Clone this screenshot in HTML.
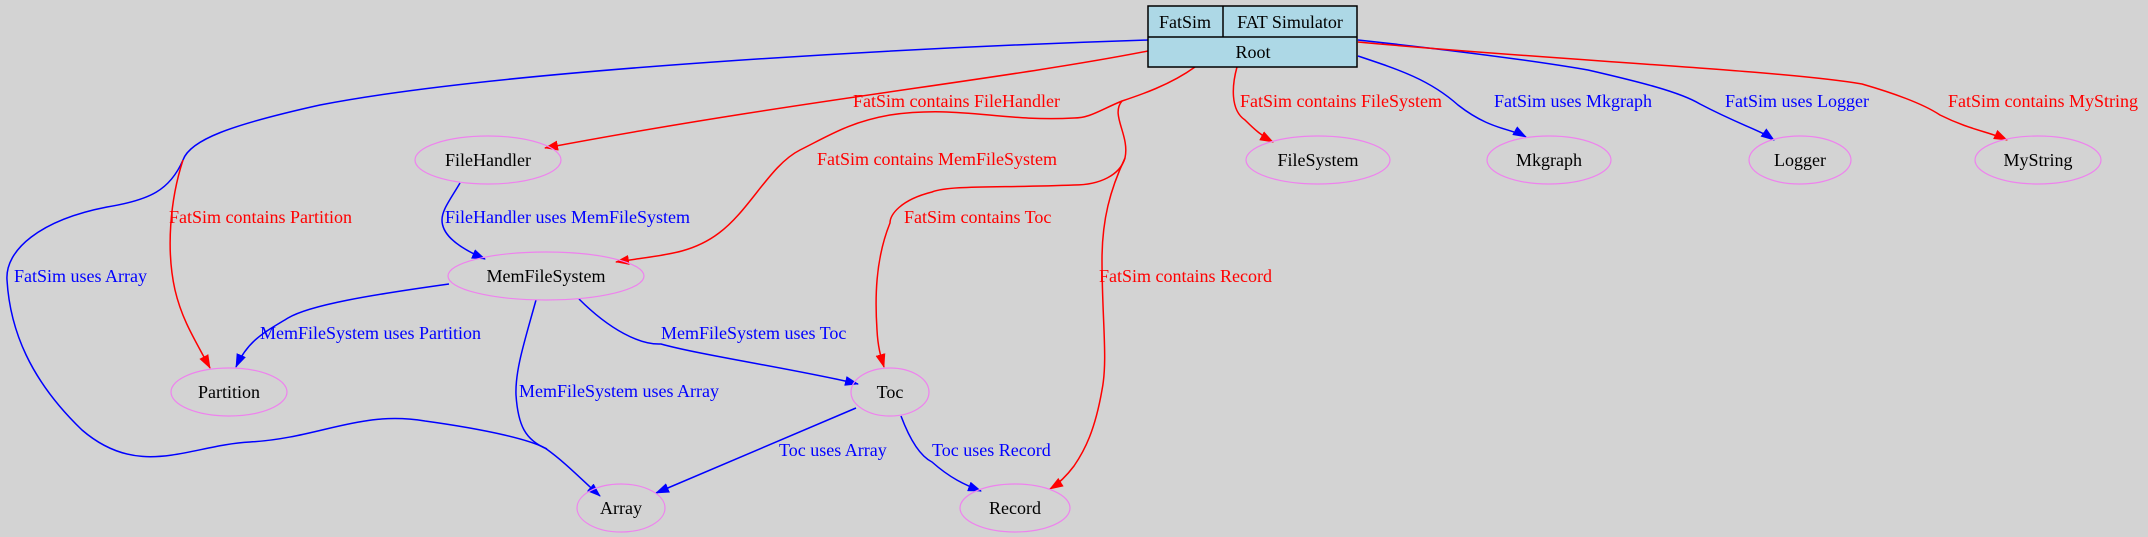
<!DOCTYPE html>
<html><head><meta charset="utf-8"><style>
html,body{margin:0;padding:0;background:#d3d3d3;}
svg{display:block;}
text{font-family:"Liberation Serif",serif;font-size:18px;}
</style></head><body>
<svg width="2148" height="537" viewBox="0 0 2148 537" xmlns="http://www.w3.org/2000/svg">
<defs>
<marker id="ab" markerWidth="14" markerHeight="10" refX="13" refY="5" orient="auto" markerUnits="userSpaceOnUse"><path d="M0,0 L14,5 L0,10 z" fill="#0000ff"/></marker>
<marker id="ar" markerWidth="14" markerHeight="10" refX="13" refY="5" orient="auto" markerUnits="userSpaceOnUse"><path d="M0,0 L14,5 L0,10 z" fill="#ff0000"/></marker>
</defs>
<rect width="2148" height="537" fill="#d3d3d3"/>
<g fill="none" stroke-width="1.5">
<path d="M1148,40 C900,48 500,70 320,105 C230,125 190,140 183,160 C170,190 150,200 107,207 C40,220 5,250 7,280 C10,330 30,380 82,430 C140,480 190,445 250,442 C320,438 360,410 425,421 C490,430 530,440 545,448 C565,462 582,480 600,496" stroke="#0000ff" marker-end="url(#ab)"/>
<path d="M1148,51 C1000,80 800,100 545,148" stroke="#ff0000" marker-end="url(#ar)"/>
<path d="M183,160 C170,200 166,250 175,290 C182,320 195,340 210,368" stroke="#ff0000" marker-end="url(#ar)"/>
<path d="M1195,67 C1170,85 1140,95 1122,101 C1100,110 1090,118 1074,118 C1000,122 960,105 890,115 C850,122 830,135 800,150 C770,165 750,210 719,233 C690,255 660,255 616,262" stroke="#ff0000" marker-end="url(#ar)"/>
<path d="M1122,101 C1110,115 1130,135 1125,158 C1120,175 1100,185 1074,185 C1000,188 950,185 932,192 C900,200 890,215 890,223 C875,260 875,300 877,330 C878,350 882,360 884,367" stroke="#ff0000" marker-end="url(#ar)"/>
<path d="M1125,158 C1110,190 1102,220 1102,260 C1102,320 1108,360 1102,390 C1095,430 1085,450 1074,466 C1065,478 1058,484 1050,489" stroke="#ff0000" marker-end="url(#ar)"/>
<path d="M1237,67 C1232,85 1230,110 1245,120 C1255,130 1262,136 1273,142" stroke="#ff0000" marker-end="url(#ar)"/>
<path d="M1358,56 C1400,70 1430,80 1458,105 C1490,130 1510,128 1526,137" stroke="#0000ff" marker-end="url(#ab)"/>
<path d="M1358,40 C1450,50 1530,60 1588,70 C1640,82 1680,92 1700,104 C1740,125 1760,130 1774,140" stroke="#0000ff" marker-end="url(#ab)"/>
<path d="M1358,42 C1550,60 1780,70 1862,84 C1900,95 1925,105 1940,115 C1970,130 1990,132 2007,140" stroke="#ff0000" marker-end="url(#ar)"/>
<path d="M460,183 C450,200 442,210 442,220 C442,232 452,245 485,259" stroke="#0000ff" marker-end="url(#ab)"/>
<path d="M449,284 C370,295 310,305 288,318 C265,332 248,340 236,367" stroke="#0000ff" marker-end="url(#ab)"/>
<path d="M579,299 C610,330 640,345 661,344 C700,355 800,370 858,384" stroke="#0000ff" marker-end="url(#ab)"/>
<path d="M536,300 C525,340 515,370 516,395 C518,425 525,440 547,449" stroke="#0000ff"/>
<path d="M856,408 L656,493" stroke="#0000ff" marker-end="url(#ab)"/>
<path d="M901,416 C910,440 920,456 932,462 C950,478 965,485 981,491" stroke="#0000ff" marker-end="url(#ab)"/>
</g>
<g fill="none" stroke="#ee82ee" stroke-width="1.2">
<ellipse cx="488" cy="160" rx="73" ry="24"/>
<ellipse cx="546" cy="276" rx="98" ry="24"/>
<ellipse cx="229" cy="392" rx="58" ry="24"/>
<ellipse cx="890" cy="392" rx="39" ry="24"/>
<ellipse cx="621" cy="508" rx="44" ry="24"/>
<ellipse cx="1015" cy="508" rx="55" ry="24"/>
<ellipse cx="1318" cy="160" rx="72" ry="24"/>
<ellipse cx="1549" cy="160" rx="62" ry="24"/>
<ellipse cx="1800" cy="160" rx="51" ry="24"/>
<ellipse cx="2038" cy="160" rx="63" ry="24"/>
</g>
<rect x="1148" y="6" width="209" height="61" fill="#add8e6" stroke="#000" stroke-width="1.5"/>
<line x1="1148" y1="37" x2="1357" y2="37" stroke="#000" stroke-width="1.5"/>
<line x1="1223" y1="6" x2="1223" y2="37" stroke="#000" stroke-width="1.5"/>
<g fill="#000" text-anchor="middle">
<text x="1185" y="28">FatSim</text>
<text x="1290" y="28">FAT Simulator</text>
<text x="1253" y="58">Root</text>
<text x="488" y="166">FileHandler</text>
<text x="546" y="282">MemFileSystem</text>
<text x="229" y="398">Partition</text>
<text x="890" y="398">Toc</text>
<text x="621" y="514">Array</text>
<text x="1015" y="514">Record</text>
<text x="1318" y="166">FileSystem</text>
<text x="1549" y="166">Mkgraph</text>
<text x="1800" y="166">Logger</text>
<text x="2038" y="166">MyString</text>
</g>
<g fill="#ff0000">
<text x="853" y="107">FatSim contains FileHandler</text>
<text x="817" y="165">FatSim contains MemFileSystem</text>
<text x="169" y="223">FatSim contains Partition</text>
<text x="904" y="223">FatSim contains Toc</text>
<text x="1099" y="282">FatSim contains Record</text>
<text x="1240" y="107">FatSim contains FileSystem</text>
<text x="1948" y="107">FatSim contains MyString</text>
</g>
<g fill="#0000ff">
<text x="445" y="223">FileHandler uses MemFileSystem</text>
<text x="14" y="282">FatSim uses Array</text>
<text x="260" y="339">MemFileSystem uses Partition</text>
<text x="661" y="339">MemFileSystem uses Toc</text>
<text x="519" y="397">MemFileSystem uses Array</text>
<text x="779" y="456">Toc uses Array</text>
<text x="932" y="456">Toc uses Record</text>
<text x="1494" y="107">FatSim uses Mkgraph</text>
<text x="1725" y="107">FatSim uses Logger</text>
</g>
</svg>
</body></html>
